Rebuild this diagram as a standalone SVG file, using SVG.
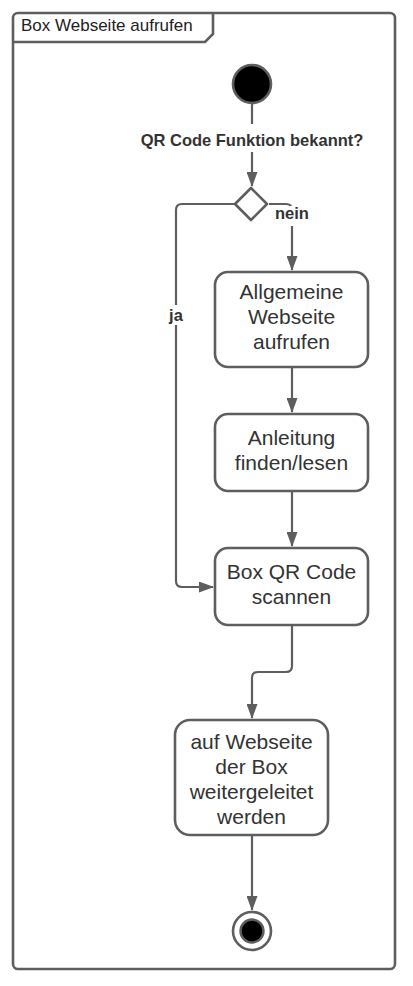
<svg xmlns="http://www.w3.org/2000/svg" width="413" height="986" viewBox="0 0 413 986">
<style>
.ln{fill:none;stroke:#5e5e5e;stroke-width:2.2;stroke-linejoin:round}
.box{fill:#fff;stroke:#5e5e5e;stroke-width:2.6}
.t{font-family:"Liberation Sans",Arial,sans-serif;font-size:21px;fill:#333;text-anchor:middle}
.lb{font-family:"Liberation Sans",Arial,sans-serif;font-size:16.5px;font-weight:bold;fill:#333;text-anchor:middle}
</style>
<defs>
<marker id="ar" viewBox="0 0 15 11" refX="14" refY="5.5" markerWidth="15" markerHeight="11" markerUnits="userSpaceOnUse" orient="auto">
<path d="M0,0 L15,5.5 L0,11 Z" fill="#5e5e5e"/>
</marker>
</defs>
<rect width="413" height="986" fill="#fff"/>
<g id="frame">
<rect x="13" y="13" width="382" height="956" rx="5" fill="#fff" stroke="#5e5e5e" stroke-width="2.6"/>
<path d="M13,42 H205 L213,34 V13" fill="none" stroke="#5e5e5e" stroke-width="2.6"/>
<text x="21" y="31" font-family="'Liberation Sans',Arial,sans-serif" font-size="17" fill="#222">Box Webseite aufrufen</text>
</g>
<g id="connectors">
<path class="ln" d="M252,104 V124"/>
<path class="ln" d="M252,152 V186" marker-end="url(#ar)"/>
<path class="ln" d="M269,204 H286 Q292,204 292,210 V270" marker-end="url(#ar)"/>
<path class="ln" d="M234,204 H182 Q176,204 176,210 V581 Q176,587 182,587 H213" marker-end="url(#ar)"/>
<path class="ln" d="M292,367 V412" marker-end="url(#ar)"/>
<path class="ln" d="M292,491 V546" marker-end="url(#ar)"/>
<path class="ln" d="M292,625 V666 Q292,672 286,672 H258 Q252,672 252,678 V718" marker-end="url(#ar)"/>
<path class="ln" d="M252,835 V910" marker-end="url(#ar)"/>
<rect x="134" y="129" width="236" height="22" fill="#fff"/>
<text class="lb" x="252" y="146">QR Code Funktion bekannt?</text>
<rect x="273" y="206" width="38" height="20" fill="#fff"/>
<text class="lb" x="292" y="219">nein</text>
<rect x="165" y="305" width="22" height="20" fill="#fff"/>
<text class="lb" x="176" y="321">ja</text>
</g>
<g id="start">
<circle cx="252" cy="84" r="19" fill="#000" stroke="#5e5e5e" stroke-width="2.6"/>
</g>
<g id="decision">
<path d="M251,188 L267,204 L251,220 L235,204 Z" fill="#fff" stroke="#5e5e5e" stroke-width="2.6" stroke-linejoin="round"/>
</g>
<g id="allgemeine">
<rect class="box" x="215" y="272" width="153" height="95" rx="13"/>
<text class="t" x="291.5" y="299">Allgemeine</text>
<text class="t" x="291.5" y="324">Webseite</text>
<text class="t" x="291.5" y="349">aufrufen</text>
</g>
<g id="anleitung">
<rect class="box" x="215" y="414" width="153" height="77" rx="13"/>
<text class="t" x="291.5" y="445">Anleitung</text>
<text class="t" x="291.5" y="470">finden/lesen</text>
</g>
<g id="scannen">
<rect class="box" x="215" y="548" width="153" height="77" rx="13"/>
<text class="t" x="291.5" y="579">Box QR Code</text>
<text class="t" x="291.5" y="604">scannen</text>
</g>
<g id="weitergeleitet">
<rect class="box" x="175" y="720" width="153" height="115" rx="15"/>
<text class="t" x="251.5" y="749">auf Webseite</text>
<text class="t" x="251.5" y="774">der Box</text>
<text class="t" x="251.5" y="799">weitergeleitet</text>
<text class="t" x="251.5" y="824">werden</text>
</g>
<g id="end">
<circle cx="252" cy="931" r="19" fill="#fff" stroke="#5e5e5e" stroke-width="2.6"/>
<circle cx="252" cy="931" r="11.5" fill="#000" stroke="#5e5e5e" stroke-width="2.4"/>
</g>
</svg>
